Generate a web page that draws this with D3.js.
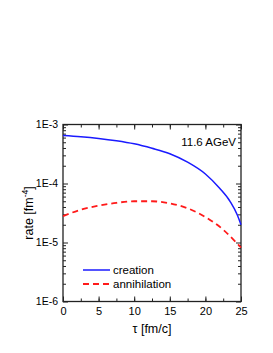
<!DOCTYPE html>
<html>
<head>
<meta charset="utf-8">
<script src="https://cdn.jsdelivr.net/npm/d3@7"></script>
<style>
  body { margin: 0; background: #fff; }
  svg text { font-family: "Liberation Sans", Arial, sans-serif; fill: #000; }
</style>
</head>
<body>
<div id="chart"></div>
<script>
// data
const tauCreation = [0, 2.5, 5, 7.5, 10, 12.5, 15, 17.5, 20, 22, 23.5, 24.5, 25];
const rateCreation = [6.5e-4, 6.2e-4, 5.8e-4, 5.3e-4, 4.7e-4, 3.95e-4, 3.2e-4, 2.3e-4, 1.45e-4, 8.3e-5, 4.9e-5, 2.9e-5, 2.0e-5];
const tauAnnihilation = [0, 2.5, 5, 7.5, 10, 12.5, 15, 17.5, 20, 22.5, 24, 25];
const rateAnnihilation = [2.8e-5, 3.6e-5, 4.2e-5, 4.7e-5, 5.0e-5, 5.0e-5, 4.6e-5, 3.8e-5, 2.7e-5, 1.65e-5, 1.1e-5, 8.2e-6];
const xTicks = [0, 5, 10, 15, 20, 25];
const yTicks = [1e-3, 1e-4, 1e-5, 1e-6];
const yTickLabels = ["1E-3", "1E-4", "1E-5", "1E-6"];
const seriesNames = ["creation", "annihilation"];

const width = 273, height = 353;
const margin = { left: 63, right: 32, top: 124.5, bottom: 51.5 };
const bottomY = height - margin.bottom, rightX = width - margin.right;

const svg = d3.select("#chart").append("svg")
  .attr("width", width).attr("height", height);

const x = d3.scaleLinear().domain([0, 25]).range([margin.left, rightX]);
const y = d3.scaleLog().domain([1e-6, 1e-3]).range([bottomY, margin.top]);

const minorX = d3.range(0, 25.01, 2.5);
const minorY = [];
[1e-6, 1e-5, 1e-4].forEach(d => { for (let k = 2; k <= 9; k++) minorY.push(d * k); });

const fmt = d => yTickLabels[yTicks.indexOf(d)] || "";

// minor + major ticks, all pointing inward (negative size)
function drawAxis(make, tr, minor, major, labels, pad) {
  const g = svg.append("g").attr("transform", tr)
    .call(make().tickValues(minor).tickSizeInner(-3).tickSizeOuter(0).tickFormat(""));
  const a = make().tickValues(major).tickSizeInner(-5).tickSizeOuter(0).tickPadding(pad || 6);
  if (!labels) a.tickFormat("");
  else if (labels !== true) a.tickFormat(labels);
  const g2 = svg.append("g").attr("transform", tr).call(a);
  [g, g2].forEach(s => {
    s.selectAll("path").attr("stroke", "none");
    s.selectAll("line").attr("stroke", "#222").attr("stroke-width", 1);
    s.selectAll("text").attr("font-size", 11);
  });
  return g2;
}

drawAxis(() => d3.axisBottom(x), `translate(0,${bottomY})`, minorX, xTicks, true);
drawAxis(() => d3.axisTop(x), `translate(0,${margin.top})`, minorX, xTicks, false);
drawAxis(() => d3.axisLeft(y), `translate(${margin.left},0)`, minorY, yTicks, fmt, 5)
  .selectAll("text").attr("font-size", 10.5);
drawAxis(() => d3.axisRight(y), `translate(${rightX},0)`, minorY, yTicks, false);

// frame
svg.append("rect")
  .attr("x", margin.left).attr("y", margin.top)
  .attr("width", rightX - margin.left).attr("height", bottomY - margin.top)
  .attr("fill", "none").attr("stroke", "#222").attr("stroke-width", 1.3);

// curves
const line = d3.line().x(d => x(d[0])).y(d => y(d[1])).curve(d3.curveMonotoneX);

svg.append("path")
  .datum(d3.zip(tauCreation, rateCreation))
  .attr("d", line).attr("fill", "none")
  .attr("stroke", "#1a1aff").attr("stroke-width", 1.5);

svg.append("path")
  .datum(d3.zip(tauAnnihilation, rateAnnihilation))
  .attr("d", line).attr("fill", "none")
  .attr("stroke", "#ff1a1a").attr("stroke-width", 1.8)
  .attr("stroke-dasharray", "6,4");

// label
svg.append("text")
  .attr("x", 236).attr("y", 145.5)
  .attr("text-anchor", "end").attr("font-size", 11.5)
  .text("11.6 AGeV");

// legend
const legend = svg.append("g");
legend.append("line").attr("x1", 83).attr("x2", 110).attr("y1", 270).attr("y2", 270)
  .attr("stroke", "#1a1aff").attr("stroke-width", 1.5);
legend.append("line").attr("x1", 83).attr("x2", 110).attr("y1", 284).attr("y2", 284)
  .attr("stroke", "#ff1a1a").attr("stroke-width", 1.8).attr("stroke-dasharray", "6,4");
legend.selectAll("text.leg").data(seriesNames).enter().append("text")
  .attr("class", "leg")
  .attr("x", 113).attr("y", (d, i) => 274 + i * 14)
  .attr("font-size", 11.5).text(d => d);

// axis titles
svg.append("text")
  .attr("x", (margin.left + rightX) / 2).attr("y", 333)
  .attr("text-anchor", "middle").attr("font-size", 12.5)
  .text("τ [fm/c]");

const yt = svg.append("text")
  .attr("transform", `translate(33,${(margin.top + bottomY) / 2}) rotate(-90)`)
  .attr("text-anchor", "middle").attr("font-size", 12.5);
yt.append("tspan").text("rate [fm");
yt.append("tspan").attr("dy", -5).attr("font-size", 8.5).text("-4");
yt.append("tspan").attr("dy", 5).text("]");
</script>
</body>
</html>
